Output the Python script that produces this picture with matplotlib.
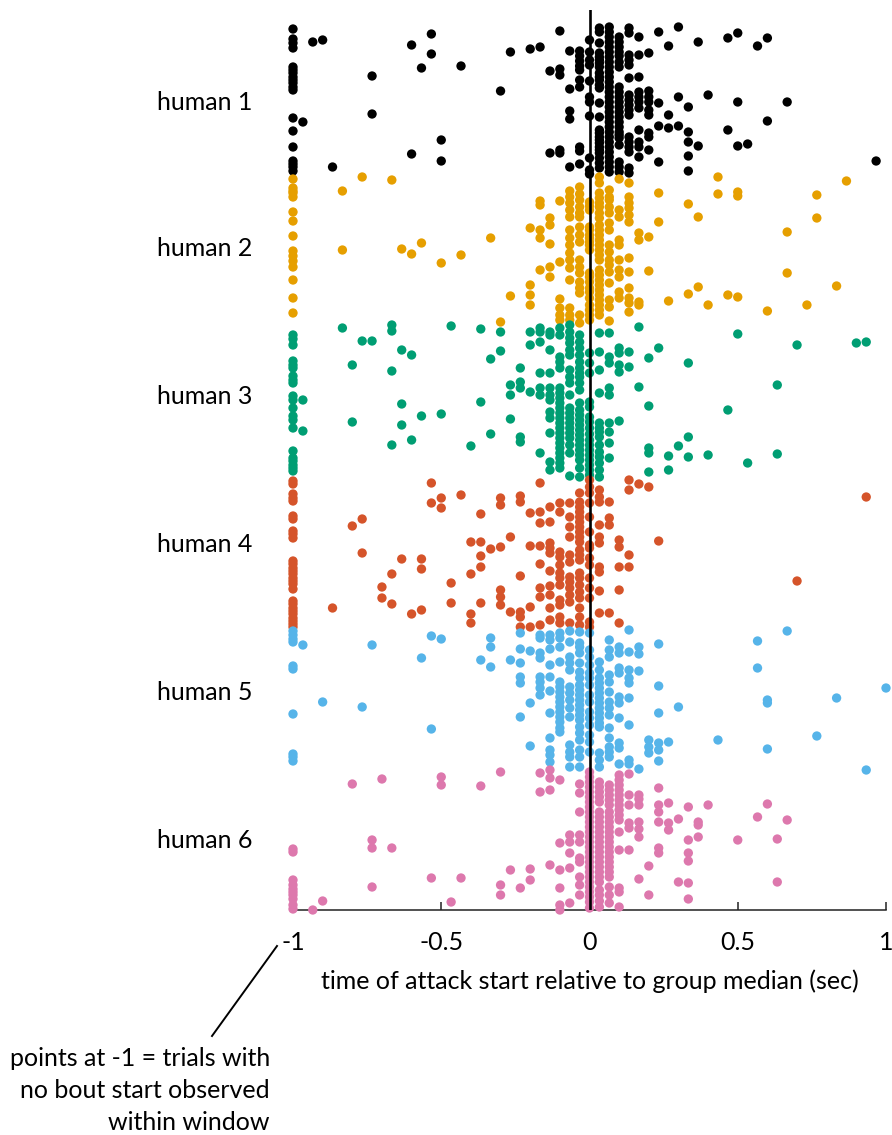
import matplotlib
matplotlib.use("Agg")
import matplotlib.pyplot as plt
from matplotlib.lines import Line2D

# ---------------- data ----------------
# attack start time in video frames (1/30 s) relative to group median; -30 (= -1 s) = no bout start observed
# values are the row positions (trial rows, top to bottom) at which each point appears
FPS = 30
group_labels = ["human 1", "human 2", "human 3", "human 4", "human 5", "human 6"]
group_rows = [101, 247, 395, 543, 691, 839]
group_colors = ["#000000", "#E69F00", "#009E73", "#D5542A", "#56B4E9", "#DD78AD"]

human1 = {
    -30: [29, 39, 43, 48, 67, 70, 73, 77, 80, 83, 87, 90, 118, 131, 147, 161, 164, 167, 171],
    -29: [122], -28: [42], -27: [40], -26: [167], -22: [76, 114], -18: [45, 154], -17: [68],
    -16: [34, 54], -15: [140, 161], -13: [66], -9: [91], -8: [52], -6: [49], -5: [47],
    -4: [71, 153], -3: [31, 69, 75, 150, 153], -2: [51, 89, 111, 119, 167],
    -1: [51, 56, 61, 66, 70, 80, 87, 147, 151, 164],
    0: [40, 52, 60, 65, 81, 97, 102, 116, 158, 170, 174],
    1: [28, 32, 43, 53, 57, 60, 63, 67, 73, 77, 80, 85, 88, 103, 117, 130, 133, 137, 140, 143,
        147, 150, 153, 158, 163, 168],
    2: [27, 32, 37, 42, 47, 52, 57, 62, 67, 72, 77, 82, 87, 92, 97, 102, 107, 112, 117, 122,
        127, 132, 137, 142, 147, 152, 157, 162, 167, 172],
    3: [37, 42, 47, 52, 56, 62, 67, 87, 92, 97, 102, 107, 112, 117, 122, 127, 132, 135, 138,
        145, 162, 167, 172],
    4: [28, 33, 55, 60, 65, 78, 95, 100, 105, 110, 115, 137, 142, 147, 152, 168, 173],
    5: [37, 55, 77, 92, 97, 102, 108, 130, 142, 147, 157],
    6: [53, 91, 97, 102, 110, 115, 133, 137, 150],
    7: [32, 103, 126, 162], 8: [46, 115, 128], 9: [27, 97, 126], 10: [107, 132, 142, 156, 171],
    11: [42, 146], 12: [95], 14: [38, 130], 15: [33, 102, 146], 16: [144], 17: [46],
    18: [38, 121], 20: [102], 29: [161],
}

human2 = {
    -30: [179, 188, 191, 193, 197, 212, 221, 236, 251, 256, 261, 267, 280, 298, 313],
    -25: [191, 250], -23: [177], -20: [180], -19: [249], -18: [254], -17: [243], -15: [263],
    -13: [255], -10: [238], -9: [322], -8: [296], -6: [228, 285, 295, 305],
    -5: [201, 205, 230, 238, 270], -4: [218, 225, 244, 267, 277],
    -3: [201, 262, 299, 308, 315, 320],
    -2: [191, 197, 203, 210, 217, 230, 238, 245, 253, 260, 268, 280, 308, 315, 320],
    -1: [187, 194, 200, 207, 213, 217, 227, 235, 242, 260, 267, 273, 282, 288, 293, 315, 323],
    0: [202, 206, 210, 227, 230, 235, 238, 242, 245, 250, 273, 277, 282, 288, 292, 298, 305,
        310, 315, 320],
    1: [177, 183, 193, 198, 203, 207, 213, 218, 225, 230, 235, 240, 245, 250, 255, 260, 270,
        275, 280, 285, 290, 295, 300, 305, 310, 315],
    2: [190, 197, 200, 207, 213, 223, 230, 245, 252, 260, 265, 272, 283, 300, 307, 321],
    3: [179, 210, 217, 240, 245, 260, 270, 277, 292, 298],
    4: [183, 197, 203, 208, 215, 222, 258, 272, 288, 298, 303, 312],
    5: [233, 240, 302, 305], 6: [237, 271], 7: [193, 222], 8: [301], 10: [204, 294],
    11: [217, 287], 12: [305], 13: [177, 194], 14: [295], 15: [192, 196, 297], 18: [311],
    20: [232, 273], 22: [305], 23: [195, 218], 25: [286], 26: [181],
}

human3 = {
    -30: [335, 339, 345, 361, 365, 368, 376, 380, 383, 396, 400, 408, 416, 420, 428, 451, 458,
          461, 465, 468, 471],
    -29: [400, 431], -25: [328], -24: [365, 422], -23: [341], -22: [341],
    -20: [325, 331, 371, 445], -19: [350, 404, 425], -18: [355, 440], -17: [416], -15: [414],
    -14: [326], -12: [446], -11: [329, 402], -10: [359, 434], -9: [332, 351],
    -8: [385, 395, 419], -7: [368, 382, 388, 437, 442], -6: [332, 345, 392],
    -5: [328, 332, 342, 373, 388, 395, 453],
    -4: [332, 335, 350, 373, 388, 395, 400, 412, 418, 433, 462, 470],
    -3: [328, 335, 357, 362, 368, 388, 393, 398, 403, 408, 413, 418, 423, 428, 433, 438, 443,
         448, 453, 458, 463, 468],
    -2: [325, 332, 338, 343, 350, 355, 370, 377, 383, 395, 408, 413, 418, 423, 428, 433, 438,
         445, 453, 476],
    -1: [335, 342, 348, 355, 362, 368, 373, 377, 383, 390, 403, 410, 415, 420, 425, 430, 435,
         440, 445, 450, 455, 460, 468, 477],
    0: [353, 363, 373, 402, 407, 417, 422, 428, 434, 440, 445, 450, 455, 460, 465, 470, 475],
    1: [333, 352, 370, 393, 423, 428, 432, 437, 445, 452, 457, 463, 470, 477],
    2: [333, 357, 363, 388, 395, 423, 432, 443, 458],
    3: [348, 353, 365, 372, 421], 4: [352, 367], 5: [327, 387], 6: [358, 406, 448, 453, 472],
    7: [348], 8: [456, 470], 9: [446], 10: [363, 437, 457], 12: [455], 14: [410], 15: [334],
    16: [463], 19: [385, 454], 21: [345], 27: [343], 28: [342],
}

human4 = {
    -30: [481, 484, 494, 498, 501, 516, 519, 531, 534, 538, 561, 564, 568, 571, 574, 578, 581,
          584, 589, 601, 604, 608, 611, 614, 618, 621, 624, 627],
    -26: [608], -24: [526], -23: [519, 553], -21: [587, 598], -20: [574, 604], -19: [559],
    -18: [614], -17: [559, 569, 610], -16: [483, 503], -15: [498, 508], -14: [583, 603],
    -13: [495], -12: [542, 574, 614, 623], -11: [514, 542, 556, 567, 603], -10: [549],
    -9: [498, 505, 547, 590, 597, 605], -8: [537, 612], -7: [496, 502, 576, 612, 617, 627],
    -6: [513, 546, 607, 627], -5: [483, 512, 523, 546, 564, 588, 597, 625],
    -4: [507, 522, 543, 548, 553, 571, 586, 595, 608, 620],
    -3: [503, 512, 552, 557, 565, 573, 578, 585, 600, 605, 617, 623],
    -2: [503, 517, 527, 537, 555, 562, 577, 582, 588, 595, 602, 623],
    -1: [493, 502, 507, 512, 517, 522, 527, 532, 537, 542, 550, 555, 560, 573, 578, 585, 592,
         598, 608, 617, 625],
    0: [480, 487, 493, 503, 517, 532, 545, 548, 558, 565, 578, 588, 598, 622, 627],
    1: [490, 497, 502, 525, 537, 543, 567, 572, 591, 613],
    2: [502, 518, 525, 613], 3: [540, 547, 567, 590, 623], 4: [480, 490, 555, 567],
    5: [484], 6: [487], 7: [541], 21: [581], 28: [497],
}

human5 = {
    -30: [631, 635, 639, 642, 666, 669, 714, 754, 757, 761],
    -29: [645], -27: [702], -23: [707], -22: [645], -17: [658], -16: [636, 729], -15: [639],
    -11: [660], -10: [638, 647, 667], -8: [660], -7: [633, 649, 663, 677, 683, 717],
    -6: [651, 703, 746], -5: [635, 638, 653, 658, 677, 682, 688, 695],
    -4: [635, 640, 649, 665, 677, 691, 713, 738, 750, 755, 762],
    -3: [633, 638, 647, 662, 682, 687, 692, 697, 702, 707, 712, 717, 722, 728, 732],
    -2: [631, 642, 657, 663, 670, 687, 693, 700, 708, 717, 745, 752, 757, 767],
    -1: [632, 643, 647, 653, 663, 672, 678, 685, 690, 695, 700, 705, 710, 715, 720, 727, 733,
         740, 750, 757, 767],
    0: [633, 650, 657, 665, 673, 678, 685, 695, 702, 712, 718, 725, 735, 742, 752],
    1: [662, 670, 678, 683, 688, 693, 698, 703, 708, 713, 718, 723, 727, 753, 760, 767],
    2: [640, 650, 657, 675, 682, 692, 702, 708, 715, 728, 738, 747, 752, 757],
    3: [647, 653, 668, 673, 697, 703, 718, 743, 748, 764],
    4: [630, 652, 670, 678, 683, 698, 725, 760, 764],
    5: [647, 654, 671, 769], 6: [740, 747, 753], 7: [644, 686, 713, 743, 750, 761], 8: [742],
    9: [707], 13: [740], 17: [641, 668], 18: [700, 703, 749], 20: [631], 23: [736],
    25: [698], 28: [770], 30: [688],
}

human6 = {
    -30: [849, 852, 880, 885, 889, 892, 895, 899, 905, 909],
    -28: [910], -27: [901], -24: [784], -22: [840, 848, 887], -21: [779], -20: [848],
    -16: [878], -15: [777, 785], -14: [902], -13: [878], -11: [786], -9: [772, 885, 895],
    -8: [870], -7: [888], -6: [869, 880], -5: [773, 792], -4: [770, 778, 790, 865],
    -3: [780, 843, 870, 888, 905, 910], -2: [835, 842, 853, 868, 903],
    -1: [784, 793, 812, 835, 842, 858, 862, 877, 885, 895],
    0: [772, 777, 782, 787, 792, 797, 802, 807, 812, 817, 822, 827, 832, 837, 842, 847, 852,
        857, 862, 867, 872, 877, 882, 887, 892, 897, 902, 908],
    1: [782, 787, 792, 797, 802, 812, 817, 822, 827, 832, 837, 842, 847, 852, 857, 862, 867,
        872, 877, 882, 890, 895, 901, 907],
    2: [785, 790, 795, 800, 805, 812, 817, 822, 827, 832, 837, 842, 847, 852, 857, 862, 867,
        872, 877, 887, 895, 903],
    3: [775, 780, 785, 790, 795, 800, 805, 810, 815, 820, 832, 850, 888, 892, 907],
    4: [774, 795, 805, 823, 828, 850], 5: [795, 799, 805, 822, 829, 837, 879], 6: [866, 895],
    7: [788, 805, 812, 822, 848, 853], 8: [803, 823, 830], 9: [819, 882],
    10: [807, 840, 853, 861, 883, 899], 11: [822, 825, 837], 12: [805], 15: [840], 17: [817],
    18: [804], 19: [839, 882], 20: [820],
}

groups = [human1, human2, human3, human4, human5, human6]
xticks = [-1, -0.5, 0, 0.5, 1]
xticklabels = ["-1", "-0.5", "0", "0.5", "1"]

# ---------------- plot ----------------
plt.rcParams["font.family"] = ["Lato", "DejaVu Sans"]
FS = 18
W, H = 892, 1135
fig = plt.figure(figsize=(W / 100, H / 100), dpi=100)
ax = fig.add_axes([293 / W, 1 - 910 / H, (886 - 293) / W, (910 - 10) / H])

for data, color in zip(groups, group_colors):
    xs, ys = [], []
    for frame, rows in data.items():
        for r in rows:
            xs.append(frame / FPS)
            ys.append(r)
    ax.scatter(xs, ys, s=45, color=color, edgecolors="none", clip_on=False, zorder=3)

ax.axvline(0, color="black", lw=1.9, zorder=6)

ax.set_xlim(-1, 1)
ax.set_ylim(910, 10)
for side in ["top", "right", "left"]:
    ax.spines[side].set_visible(False)
ax.spines["bottom"].set_color("#222222")
ax.spines["bottom"].set_linewidth(1.1)
ax.set_xticks(xticks)
ax.set_xticklabels(xticklabels)
ax.tick_params(axis="x", direction="in", length=6, width=1.1, color="#222222",
               labelsize=FS, pad=15)
ax.set_yticks(group_rows)
ax.set_yticklabels(group_labels)
ax.tick_params(axis="y", length=0, labelsize=FS, pad=29)
ax.set_xlabel("time of attack start relative to group median (sec)", fontsize=FS, labelpad=11)

# annotation
fig.add_artist(Line2D([277 / W, 212 / W], [1 - 946 / H, 1 - 1036 / H],
                      transform=fig.transFigure, color="black", lw=1.4))
for txt, yy in [("points at -1 = trials with", 1058), ("no bout start observed", 1091),
                ("within window", 1122)]:
    fig.text(270 / W, 1 - yy / H, txt, ha="right", va="center", fontsize=FS)

fig.savefig("out.png", dpi=100)
